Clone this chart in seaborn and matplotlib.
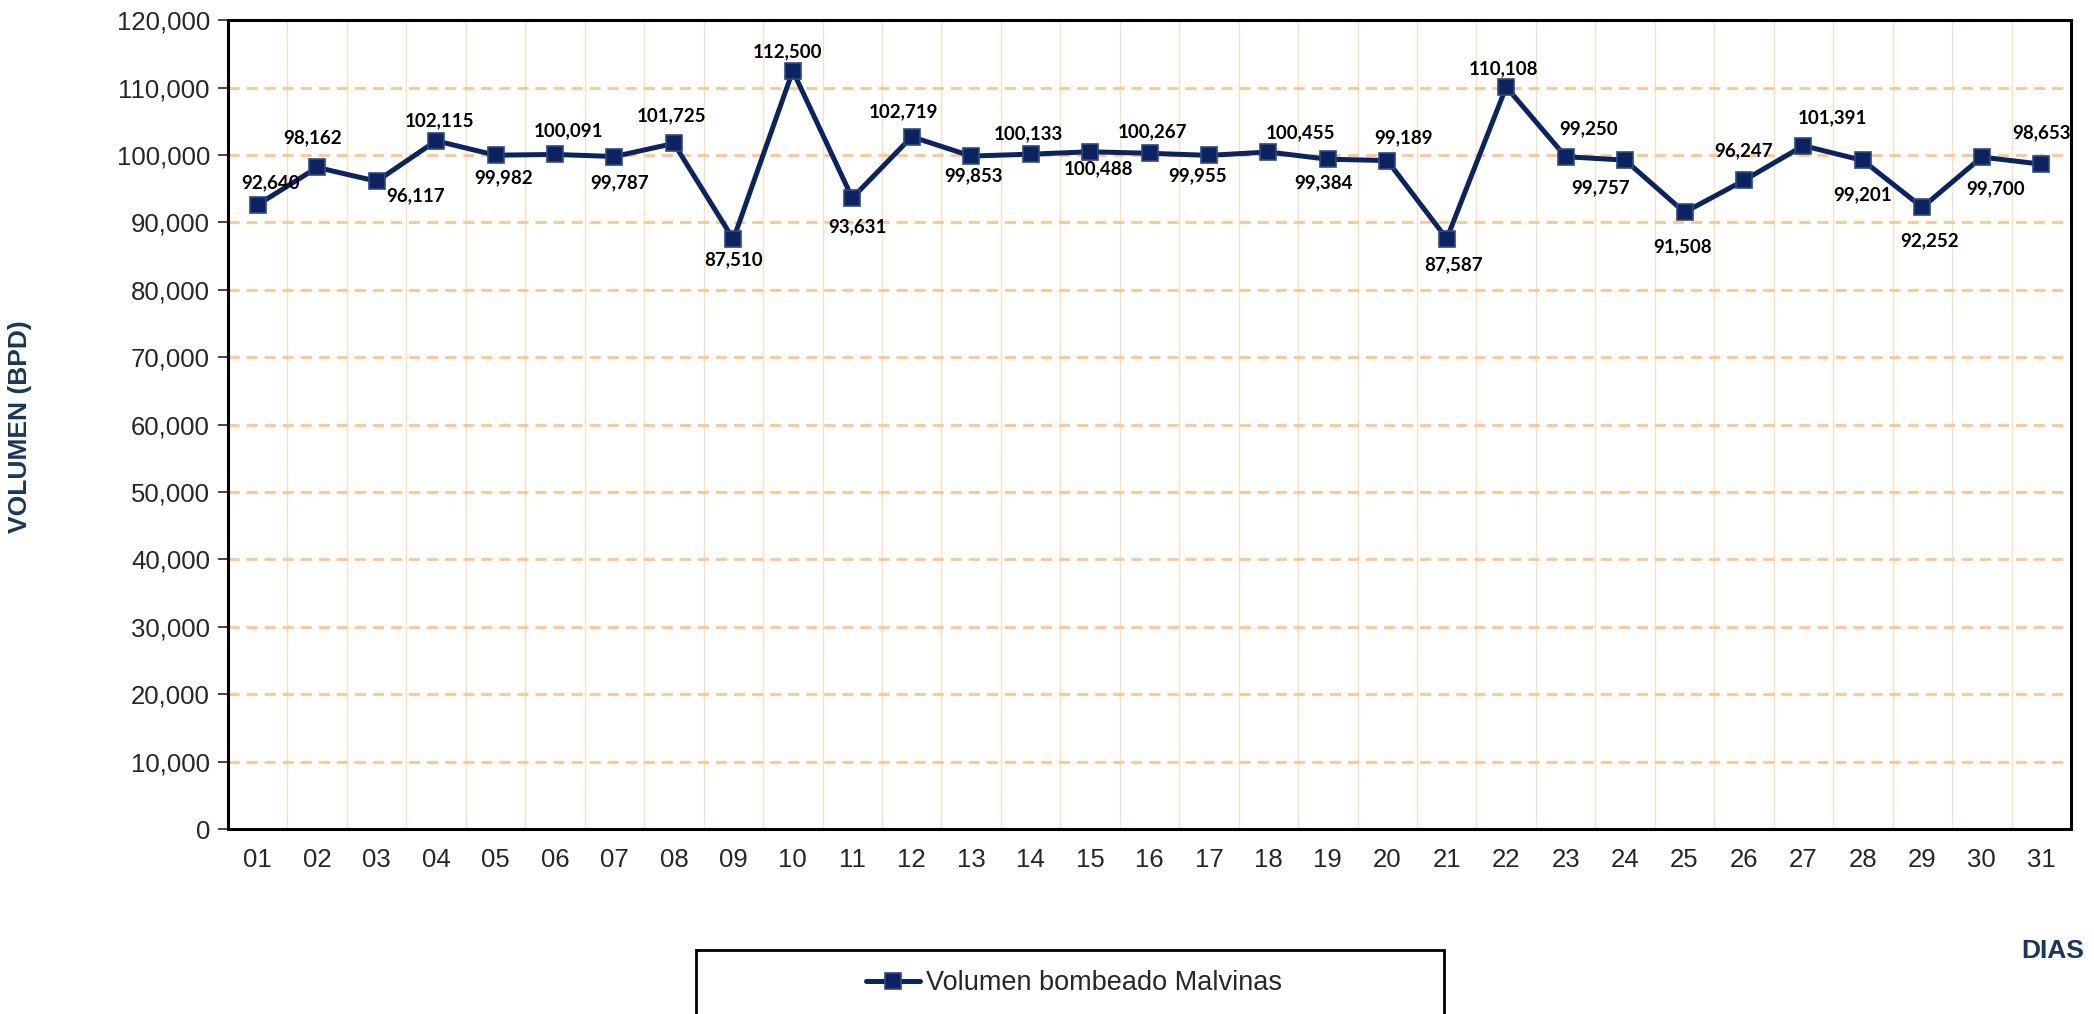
import numpy as np
import pandas as pd
import matplotlib
matplotlib.use("Agg")
import matplotlib.pyplot as plt
import matplotlib.patches as mpatches
from matplotlib.ticker import FuncFormatter, MultipleLocator, FixedLocator
import seaborn as sns

# ---------------- Data ----------------
dias = [f"{d:02d}" for d in range(1, 32)]
volumen = [92640, 98162, 96117, 102115, 99982, 100091, 99787, 101725, 87510, 112500,
           93631, 102719, 99853, 100133, 100488, 100267, 99955, 100455, 99384, 99189,
           87587, 110108, 99757, 99250, 91508, 96247, 101391, 99201, 92252, 99700, 98653]
serie = "Volumen bombeado Malvinas"

# label offsets (pixels) relative to each point, as placed in the original
label_dx = [13, -5, 39, 3, 8, 13, 5, -2, 0, -5, 5, -8, 2, -2, 8, 3, -11, 32, -4,
            16, 7, -3, 35, -37, -2, 0, 29, 0, 7, 14, 0]
label_dy = [-22, -30, 15, -20, 23, -24, 26, -28, 20, -19, 29, -25, 20, -20, 17, -22, 20, -19, 24,
            -23, 26, -18, 31, -31, 34, -30, -28, 34, 33, 32, -31]

df = pd.DataFrame({"dia": dias, "volumen": volumen})

NAVY = "#0B2461"
ORANGE = "#FFC58C"
TITLE_BLUE = "#17375E"

sns.set_style("white")
plt.rcParams["font.family"] = ["Liberation Sans", "DejaVu Sans"]

fig = plt.figure(figsize=(20.94, 10.14), dpi=100)
ax = fig.add_axes([0.1089, 0.1824, 0.8801, 0.7976])

sns.lineplot(data=df, x="dia", y="volumen", ax=ax, color=NAVY, linewidth=3.6,
             marker="s", markersize=12, markerfacecolor=NAVY, markeredgecolor="#2E4A85",
             markeredgewidth=1.2, label=serie, legend=False, sort=False)

# data labels
for i, v in enumerate(volumen):
    ax.annotate(f"{v:,}", (i, v), xytext=(label_dx[i], -label_dy[i]),
                textcoords="offset pixels", ha="center", va="center",
                fontsize=13.5, fontweight="bold", family="Lato", color="black", zorder=5)

# axes
ax.set_xlim(-0.5, len(dias) - 0.5)
ax.set_ylim(0, 120000)
ax.yaxis.set_major_locator(MultipleLocator(10000))
ax.yaxis.set_major_formatter(FuncFormatter(lambda v, p: f"{int(v):,}"))
ax.xaxis.set_major_locator(FixedLocator(range(len(dias))))
ax.set_xticklabels(dias)
ax.xaxis.set_minor_locator(FixedLocator(np.arange(-0.5, len(dias), 1.0)))
ax.tick_params(axis="x", which="major", length=0, labelsize=18.5, pad=14)
ax.tick_params(axis="x", which="minor", length=8, width=1.2, color="#555555", direction="out")
ax.tick_params(axis="y", which="major", length=7, width=1.2, labelsize=18.5, direction="out",
               left=True, pad=6)

ax.grid(False)
ax.grid(axis="y", which="major", color=ORANGE, linestyle=(0, (4, 2.5)), linewidth=2)
ax.grid(axis="x", which="minor", color="#FFDDBB", linestyle="-", linewidth=0.9)
ax.set_axisbelow(True)

for side in ["left", "bottom", "top", "right"]:
    ax.spines[side].set_visible(True)
    ax.spines[side].set_color("black")
    ax.spines[side].set_linewidth(2.2)

ax.set_xlabel("")
ax.set_ylabel("")
fig.text(20 / 2094, 1 - 427 / 1014, "VOLUMEN (BPD)", rotation=90, ha="center", va="center",
         fontsize=19, fontweight="bold", color=TITLE_BLUE)
fig.text(2053 / 2094, 1 - 951 / 1014, "DIAS", ha="center", va="center",
         fontsize=19, fontweight="bold", color=TITLE_BLUE)

# legend box
box = mpatches.Rectangle((696 / 2094, -0.02), 748 / 2094, (1014 - 950) / 1014 + 0.02,
                         transform=fig.transFigure, facecolor="white", edgecolor="black",
                         linewidth=2)
fig.patches.append(box)
handles, labels = ax.get_legend_handles_labels()
fig.legend(handles, labels, loc="center", bbox_to_anchor=(1074 / 2094, 1 - 983 / 1014),
           frameon=False, fontsize=19.5, handlelength=2.0, handletextpad=0.2)

fig.savefig("out.png", dpi=100)
